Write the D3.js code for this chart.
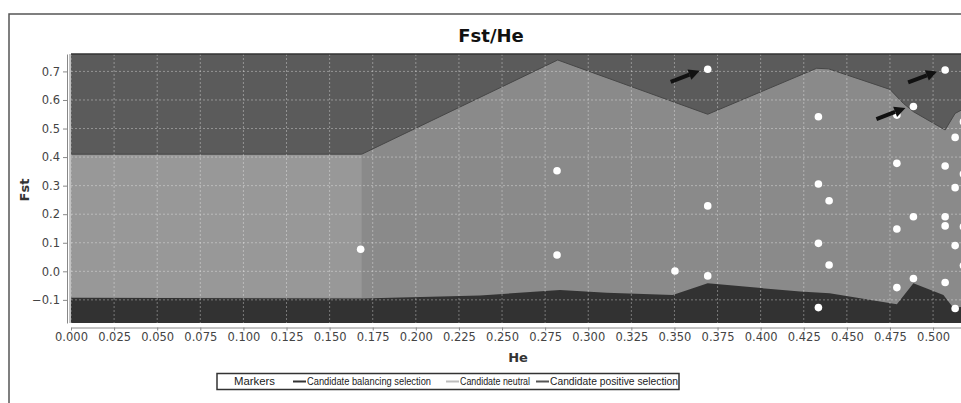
<!DOCTYPE html>
<html>
<head>
<meta charset="utf-8">
<script src="https://cdn.jsdelivr.net/npm/d3@7"></script>
<style>
  body { margin: 0; background: #fff; }
  svg { display: block; }
</style>
</head>
<body>
<div id="chart"></div>
<script>
// Upper boundary of the neutral zone (positive selection above it)
const upperHe  = [0, 0.1686, 0.2823, 0.3693, 0.4325, 0.4394, 0.475, 0.4828, 0.4886, 0.507, 0.5128, 0.5165];
const upperFst = [0.41, 0.41, 0.740, 0.550, 0.711, 0.709, 0.637, 0.588, 0.559, 0.495, 0.553, 0.565];

// Lower boundary of the neutral zone (balancing selection below it)
const lowerHe  = [0, 0.1686, 0.2372, 0.2836, 0.3107, 0.349, 0.3693, 0.4229, 0.44, 0.479, 0.4886, 0.506, 0.5116, 0.5165];
const lowerFst = [-0.0925, -0.095, -0.085, -0.065, -0.075, -0.083, -0.042, -0.071, -0.077, -0.115, -0.042, -0.083, -0.127, -0.125];

// Lighter block on the left (no simulated data there)
const leftBlockHe = [0, 0.1686];
const leftBlockFst = [-0.0925, 0.41];

// Markers
const markerHe  = [0.168, 0.2819, 0.2819, 0.3693, 0.3693, 0.3693, 0.3503, 0.4335, 0.4335, 0.4397, 0.4335, 0.4397, 0.4335,
                   0.479, 0.479, 0.479, 0.479, 0.4886, 0.4886, 0.4886, 0.507, 0.507, 0.507, 0.507, 0.507,
                   0.5128, 0.5128, 0.5128, 0.5128, 0.5176, 0.5176, 0.5176, 0.5176];
const markerFst = [0.077, 0.352, 0.057, 0.7075, 0.229, -0.016, 0.001, 0.541, 0.306, 0.247, 0.098, 0.022, -0.127,
                   0.378, 0.148, -0.057, 0.547, 0.577, 0.191, -0.025, 0.705, 0.369, 0.191, 0.159, -0.039,
                   0.469, 0.293, 0.090, -0.130, 0.524, 0.341, 0.156, 0.020];
// markers pointed at by arrows
const arrowMarkers = [3, 17, 20];

const xTicks = d3.range(0, 0.5001, 0.025);
const yTicks = [-0.1, 0.0, 0.1, 0.2, 0.3, 0.4, 0.5, 0.6, 0.7];

const legendLabels = ["Markers", "Candidate balancing selection", "Candidate neutral", "Candidate positive selection"];
const legendColors = ["#ffffff", "#333333", "#bdbdbd", "#555555"];

const W = 961, H = 403;
const plot = { left: 71, top: 54, right: 961, bottom: 323 };

const svg = d3.select("#chart").append("svg")
    .attr("width", W)
    .attr("height", H);

// outer frame
svg.append("path")
    .attr("d", `M9,${H} L9,14 L${W},14`)
    .attr("fill", "none")
    .attr("stroke", "#555")
    .attr("stroke-width", 1.5);

// title
svg.append("text")
    .attr("x", 491)
    .attr("y", 41.5)
    .attr("text-anchor", "middle")
    .style("font-family", "DejaVu Sans")
    .style("font-weight", "bold")
    .style("font-size", "18px")
    .attr("fill", "#111")
    .text("Fst/He");

const x = d3.scaleLinear().domain([0, 0.5162]).range([plot.left, plot.right]);
const y = d3.scaleLinear().domain([-0.181, 0.761]).range([plot.bottom, plot.top]);

svg.append("clipPath").attr("id", "clip")
  .append("rect")
    .attr("x", plot.left).attr("y", plot.top)
    .attr("width", plot.right - plot.left + 10).attr("height", plot.bottom - plot.top);

const g = svg.append("g").attr("clip-path", "url(#clip)");

// positive selection zone = whole background
g.append("rect")
    .attr("x", plot.left).attr("y", plot.top)
    .attr("width", plot.right - plot.left + 10).attr("height", plot.bottom - plot.top)
    .attr("fill", "#5b5b5b");

const upper = upperHe.map((h, i) => ({ he: h, fst: upperFst[i] }));
const lower = lowerHe.map((h, i) => ({ he: h, fst: lowerFst[i] }));

// neutral zone: below upper boundary
g.append("path")
    .datum(upper)
    .attr("d", d3.area().x(d => x(d.he)).y0(y(-0.181)).y1(d => y(d.fst)))
    .attr("fill", "#8a8a8a");

// lighter block on the left
g.append("rect")
    .attr("x", x(leftBlockHe[0])).attr("y", y(leftBlockFst[1]))
    .attr("width", x(leftBlockHe[1]) - x(leftBlockHe[0]))
    .attr("height", y(leftBlockFst[0]) - y(leftBlockFst[1]))
    .attr("fill", "#989898");

// balancing selection zone
g.append("path")
    .datum(lower)
    .attr("d", d3.area().x(d => x(d.he)).y0(y(-0.181)).y1(d => y(d.fst)))
    .attr("fill", "#323232");

// boundary line
g.append("path")
    .datum(upper)
    .attr("d", d3.line().x(d => x(d.he)).y(d => y(d.fst)))
    .attr("fill", "none")
    .attr("stroke", "#474747")
    .attr("stroke-width", 1);

// grid
g.selectAll(".vgrid")
    .data(xTicks)
    .enter().append("line")
    .attr("x1", d => x(d)).attr("x2", d => x(d))
    .attr("y1", plot.top).attr("y2", plot.bottom)
    .attr("stroke", "rgba(255,255,255,0.35)")
    .attr("stroke-dasharray", "2,2");

g.selectAll(".hgrid")
    .data(yTicks)
    .enter().append("line")
    .attr("x1", plot.left).attr("x2", plot.right + 10)
    .attr("y1", d => y(d)).attr("y2", d => y(d))
    .attr("stroke", "rgba(255,255,255,0.35)")
    .attr("stroke-dasharray", "2,2");

// markers
const markers = markerHe.map((h, i) => ({ he: h, fst: markerFst[i] }));
g.selectAll(".dot")
    .data(markers)
    .enter().append("circle")
    .attr("cx", d => x(d.he))
    .attr("cy", d => y(d.fst))
    .attr("r", 3.8)
    .attr("fill", "#fff");

// arrows pointing at outlier markers
arrowMarkers.forEach(i => {
    const px = x(markers[i].he), py = y(markers[i].fst);
    const tx = px - 37, ty = py + 12.5;       // tail
    const hx = px - 8, hy = py + 1.5;         // tip
    const ang = Math.atan2(hy - ty, hx - tx);
    const bx = hx - 11 * Math.cos(ang), by = hy - 11 * Math.sin(ang);
    g.append("line")
        .attr("x1", tx).attr("y1", ty).attr("x2", bx).attr("y2", by)
        .attr("stroke", "#111").attr("stroke-width", 4);
    const nx = -Math.sin(ang) * 5.5, ny = Math.cos(ang) * 5.5;
    g.append("path")
        .attr("d", `M${hx},${hy} L${bx + nx},${by + ny} L${bx - nx},${by - ny} Z`)
        .attr("fill", "#111");
});

// plot border
svg.append("line")
    .attr("x1", plot.left).attr("x2", W)
    .attr("y1", plot.top).attr("y2", plot.top)
    .attr("stroke", "#333").attr("stroke-width", 1.5);
svg.append("line")
    .attr("x1", plot.left - 1).attr("x2", plot.left - 1)
    .attr("y1", plot.top).attr("y2", plot.bottom)
    .attr("stroke", "#888").attr("stroke-width", 1);

// axes
const yAxis = svg.append("g")
    .attr("transform", "translate(67,0)")
    .call(d3.axisLeft(y).tickValues(yTicks).tickFormat(d3.format(".1f")).tickSize(4).tickPadding(3).tickSizeOuter(0));
yAxis.select(".domain").attr("stroke", "#888");
yAxis.selectAll(".tick line").attr("stroke", "#888");
yAxis.selectAll("text")
    .style("font-family", "DejaVu Sans")
    .style("font-size", "11.5px")
    .attr("fill", "#444");

const xAxis = svg.append("g")
    .attr("transform", "translate(0,327.5)")
    .call(d3.axisBottom(x).tickValues(xTicks).tickFormat(d3.format(".3f")).tickSize(3).tickPadding(2).tickSizeOuter(0));
xAxis.select(".domain").attr("stroke", "#888");
xAxis.selectAll(".tick line").attr("stroke", "#888");
xAxis.selectAll("text")
    .style("font-family", "DejaVu Sans")
    .style("font-size", "11.5px")
    .attr("fill", "#444");

// axis titles
svg.append("text")
    .attr("x", 518).attr("y", 362)
    .attr("text-anchor", "middle")
    .style("font-family", "DejaVu Sans")
    .style("font-weight", "bold")
    .style("font-size", "13px")
    .attr("fill", "#333")
    .text("He");

svg.append("text")
    .attr("transform", "translate(29,190) rotate(-90)")
    .attr("text-anchor", "middle")
    .style("font-family", "DejaVu Sans")
    .style("font-weight", "bold")
    .style("font-size", "13px")
    .attr("fill", "#333")
    .text("Fst");

// legend
const legend = svg.append("g");
legend.append("rect")
    .attr("x", 217).attr("y", 373.5)
    .attr("width", 462).attr("height", 16)
    .attr("fill", "#fff")
    .attr("stroke", "#333")
    .attr("stroke-width", 1.5);

// text widths and trailing gaps as seen in the reference legend
const legendTextWidths = [41, 124, 70, 128];
const legendGaps = [18, 15, 6, 0];
let lx = 222;
legendLabels.forEach((label, i) => {
    if (i === 0) {
        legend.append("circle").attr("cx", lx + 5).attr("cy", 381.5).attr("r", 3).attr("fill", legendColors[i]);
    } else {
        legend.append("line")
            .attr("x1", lx).attr("x2", lx + 13)
            .attr("y1", 381.5).attr("y2", 381.5)
            .attr("stroke", legendColors[i]).attr("stroke-width", 2);
    }
    const tx = lx + (i === 0 ? 12 : 14);
    legend.append("text")
        .attr("x", tx)
        .attr("y", 385)
        .attr("textLength", legendTextWidths[i])
        .attr("lengthAdjust", "spacingAndGlyphs")
        .style("font-family", "Liberation Sans")
        .style("font-size", "10px")
        .attr("fill", "#222")
        .text(label);
    lx = tx + legendTextWidths[i] + legendGaps[i];
});
</script>
</body>
</html>
